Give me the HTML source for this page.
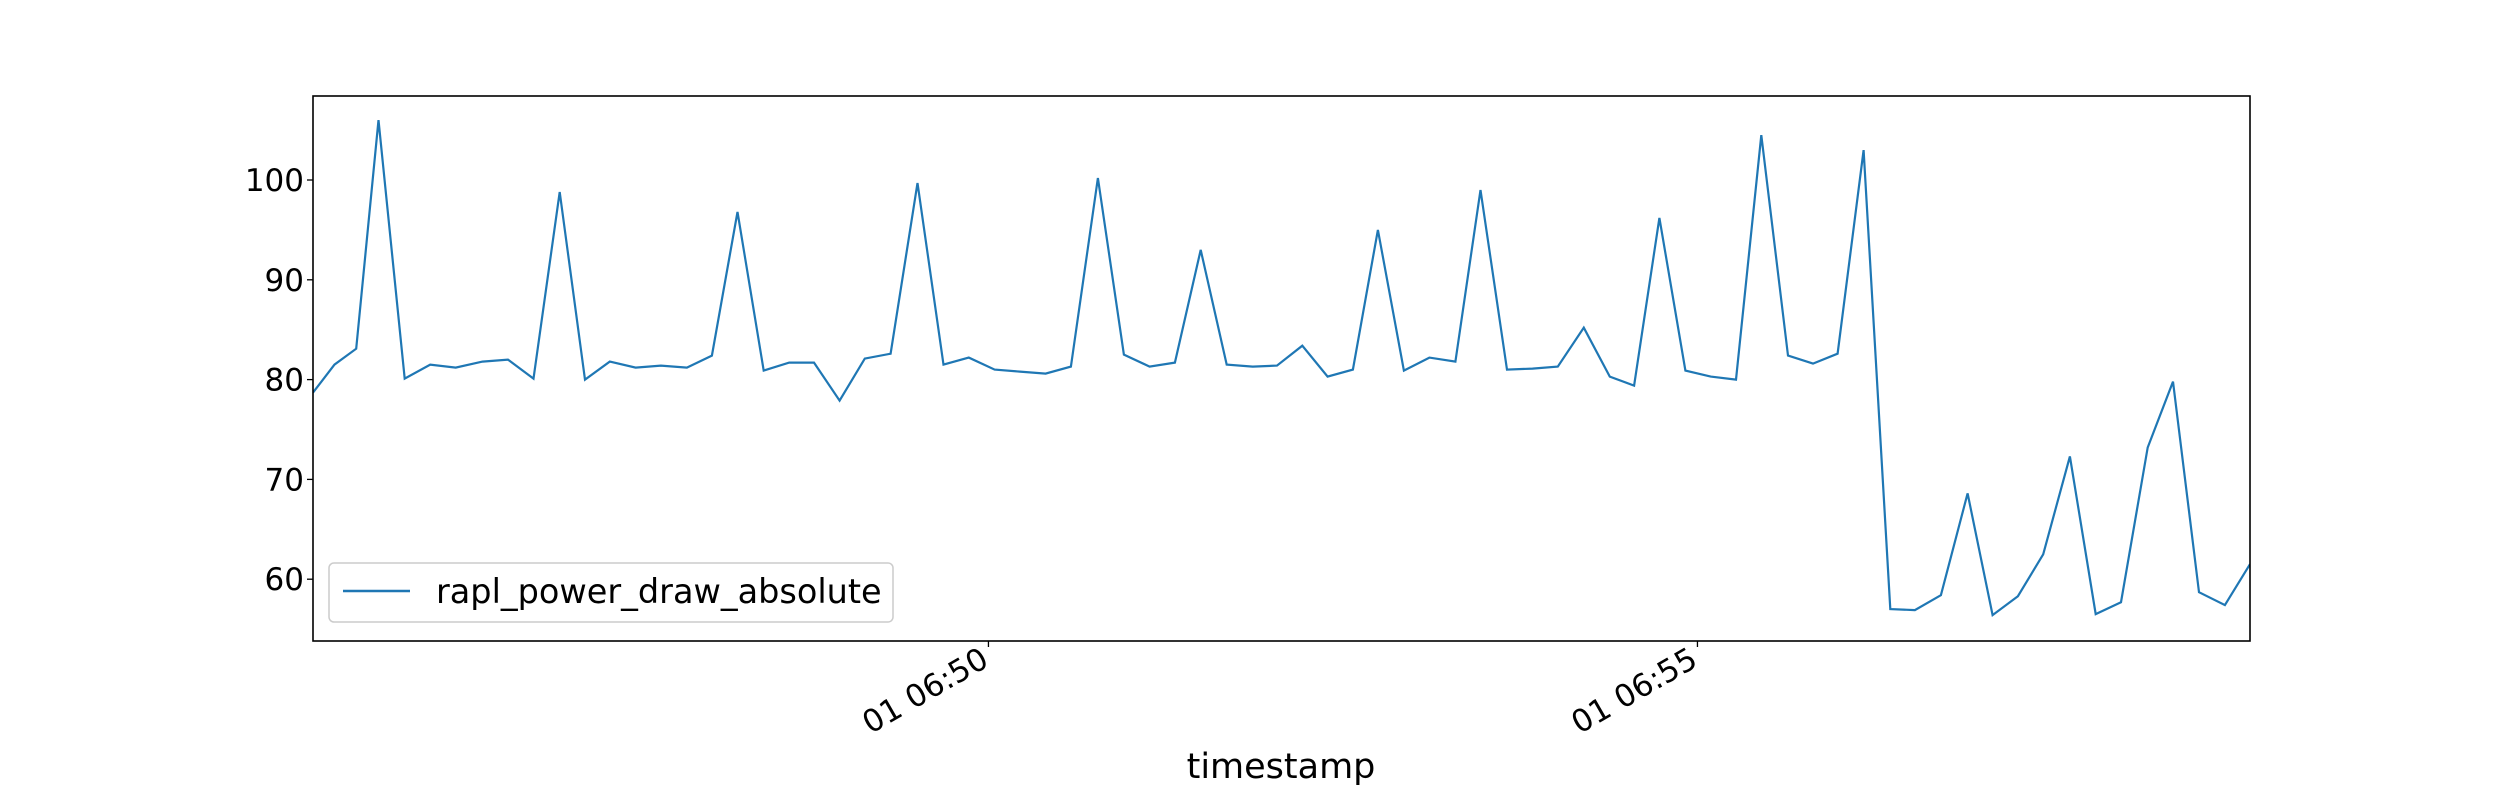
<!DOCTYPE html>
<html><head><meta charset="utf-8"><style>
html,body{margin:0;padding:0;background:#fff;}
svg{display:block;font-family:"DejaVu Sans","Liberation Sans",sans-serif;}
</style></head><body>
<svg id="chart" width="2500" height="800" viewBox="0 0 2500 800" xmlns="http://www.w3.org/2000/svg">
<rect x="0" y="0" width="2500" height="800" fill="#fff"/>
<g id="plot"></g>
</svg>
<script>
// seconds relative to 06:50:00
const times = [-285.8,-276.7,-267.5,-258.1,-247.0,-236.2,-225.4,-214.1,-203.3,-192.5,-181.4,-170.7,-160.2,-149.3,-138.6,-127.6,-117.0,-106.2,-95.1,-84.3,-73.8,-63.0,-52.3,-41.4,-30.0,-19.0,-8.3,2.6,13.3,24.2,34.9,46.3,57.3,68.2,78.9,89.8,100.8,111.8,122.1,132.8,143.5,154.2,164.8,175.8,186.6,197.6,208.2,219.4,230.2,240.9,251.9,262.9,273.2,283.9,294.9,305.6,316.3,327.0,338.3,348.9,359.3,370.3,381.6,392.0,403.0,414.3,424.9,435.6,446.3,457.6,468.5,479.2,490.5,501.2,512.2,523.2,533.8];
const values = [78.7,81.5,83.1,106.0,80.1,81.5,81.2,81.8,82.0,80.1,98.8,80.0,81.8,81.2,81.4,81.2,82.4,96.8,80.9,81.7,81.7,77.9,82.1,82.6,99.7,81.5,82.2,81.0,80.8,80.6,81.3,100.2,82.5,81.3,81.7,93.0,81.5,81.3,81.4,83.4,80.3,81.0,95.0,80.9,82.2,81.8,99.0,81.0,81.1,81.3,85.2,80.3,79.4,96.2,80.9,80.3,80.0,104.5,82.4,81.6,82.6,103.0,57.0,56.9,58.4,68.6,56.4,58.3,62.5,72.3,56.5,57.7,73.2,79.8,58.7,57.4,61.5];
const yTicks = [60,70,80,90,100];
const xTicks = [0,300];
const xTickLabels = ["01 06:50","01 06:55"];
const seriesName = "rapl_power_draw_absolute";

const L=313,R=2250,T=96,B=641;
const tMin=-285.8,tMax=533.8;
const xs = t => L + (t - tMin) * (R - L) / (tMax - tMin);
const ys = v => 180 + (100 - v) * 9.98;
const NS="http://www.w3.org/2000/svg";
const g=document.getElementById('plot');
function mk(tag,attrs,parent){const e=document.createElementNS(NS,tag);for(const k in attrs)e.setAttribute(k,attrs[k]);(parent||g).appendChild(e);return e;}

const clip=mk('clipPath',{id:'cp'});mk('rect',{x:L,y:T,width:R-L,height:B-T},clip);

let d='';
times.forEach((t,i)=>{d+=(i?'L':'M')+xs(t).toFixed(1)+' '+ys(values[i]).toFixed(1);});
const line=mk('path',{d:d,fill:'none',stroke:'#1f77b4','stroke-width':2.2,'stroke-linejoin':'miter','clip-path':'url(#cp)'});



const frame=mk('rect',{x:L,y:T,width:R-L,height:B-T,fill:'none',stroke:'#000','stroke-width':1.6});



yTicks.forEach(v=>{
  const y=ys(v);
  const tk=mk('line',{x1:L-6,x2:L,y1:y,y2:y,stroke:'#000','stroke-width':1.3});
  
  
  const tx=mk('text',{x:L-9,y:y+11,'text-anchor':'end','font-size':31,fill:'#000'});
  tx.textContent=v;
  
  
});
xTicks.forEach((t,i)=>{
  const x=xs(t);
  const tk=mk('line',{x1:x,x2:x,y1:B,y2:B+6,stroke:'#000','stroke-width':1.3});
  
  
  const tx=mk('text',{x:0,y:0,'text-anchor':'end','font-size':31,fill:'#000',transform:`translate(${x+2},${B+24}) rotate(-30)`});
  tx.textContent=xTickLabels[i];
  
  
});
const xl=mk('text',{x:1281,y:778,'text-anchor':'middle','font-size':35,fill:'#000'});
xl.textContent='timestamp';



const lg=mk('g',{});


mk('rect',{x:329,y:563,width:564,height:59,rx:5,fill:'#fff','fill-opacity':0.8,stroke:'#ccc','stroke-width':1.5},lg);
const ll=mk('line',{x1:343,x2:410,y1:591,y2:591,stroke:'#1f77b4','stroke-width':2.5},lg);


const lt=mk('text',{x:436,y:603,'font-size':33.5,fill:'#000'},lg);
lt.textContent=seriesName;


</script>
</body></html>
